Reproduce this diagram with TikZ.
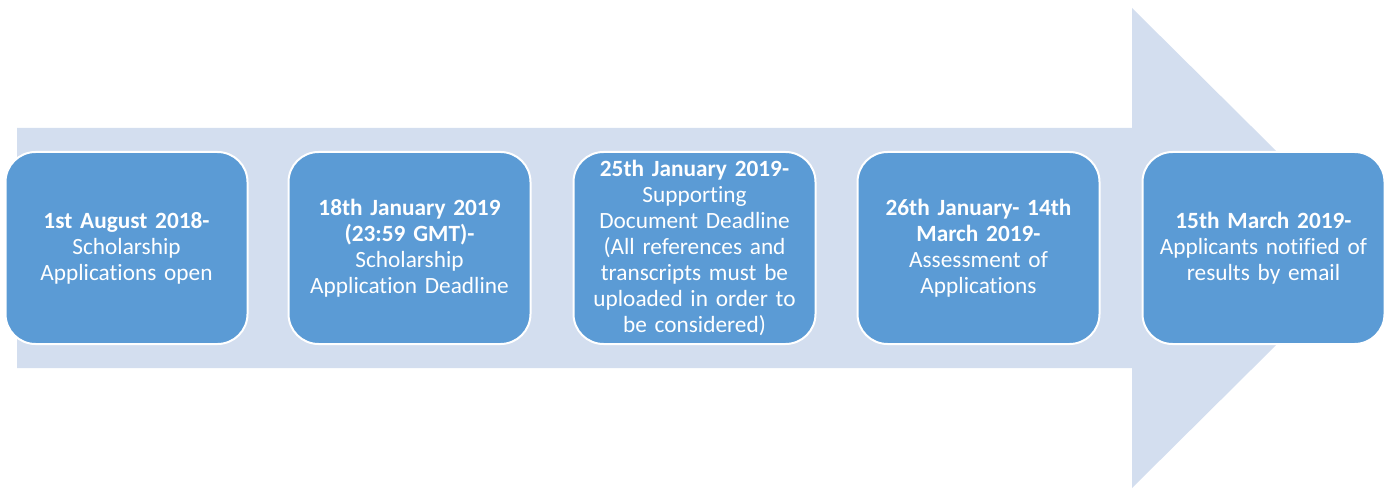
\documentclass[tikz,border=0pt]{standalone}
\usepackage{fontspec}
\setmainfont[Ligatures=NoCommon]{Carlito}
\definecolor{arrowfill}{HTML}{D3DEEF}
\definecolor{boxfill}{HTML}{5B9BD5}
\begin{document}
\begin{tikzpicture}[x=1pt,y=-1pt,
  stepbox/.style={draw=white,line width=2pt,fill=boxfill,rounded corners=30pt,
    minimum width=242pt,minimum height=192pt,text=white,align=center,
    text width=238pt,inner sep=0pt,
    font=\fontsize{23.3}{26}\selectfont}]
\useasboundingbox (0,0) rectangle (1392,489);
\fill[arrowfill] (17,128) -- (1132,128) -- (1132,8) -- (1374,248) -- (1132,488) -- (1132,368) -- (17,368) -- cycle;
\node[stepbox] (s1) at (126.5,248) {\textbf{1st August 2018-}\\Scholarship\\Applications open};
\node[stepbox] (s2) at (409.5,248) {\textbf{18th January 2019}\\\textbf{(23:59 GMT)-}\\Scholarship\\Application Deadline};
\node[stepbox] (s3) at (694.5,248) {\textbf{25th January 2019-}\\Supporting\\Document Deadline\\(All references and\\transcripts must be\\uploaded in order to\\be considered)};
\node[stepbox] (s4) at (978.5,248) {\textbf{26th January- 14th}\\\textbf{March 2019-}\\Assessment of\\Applications};
\node[stepbox] (s5) at (1263.5,248) {\textbf{15th March 2019-}\\Applicants notified of\\results by email};
\end{tikzpicture}
\end{document}
